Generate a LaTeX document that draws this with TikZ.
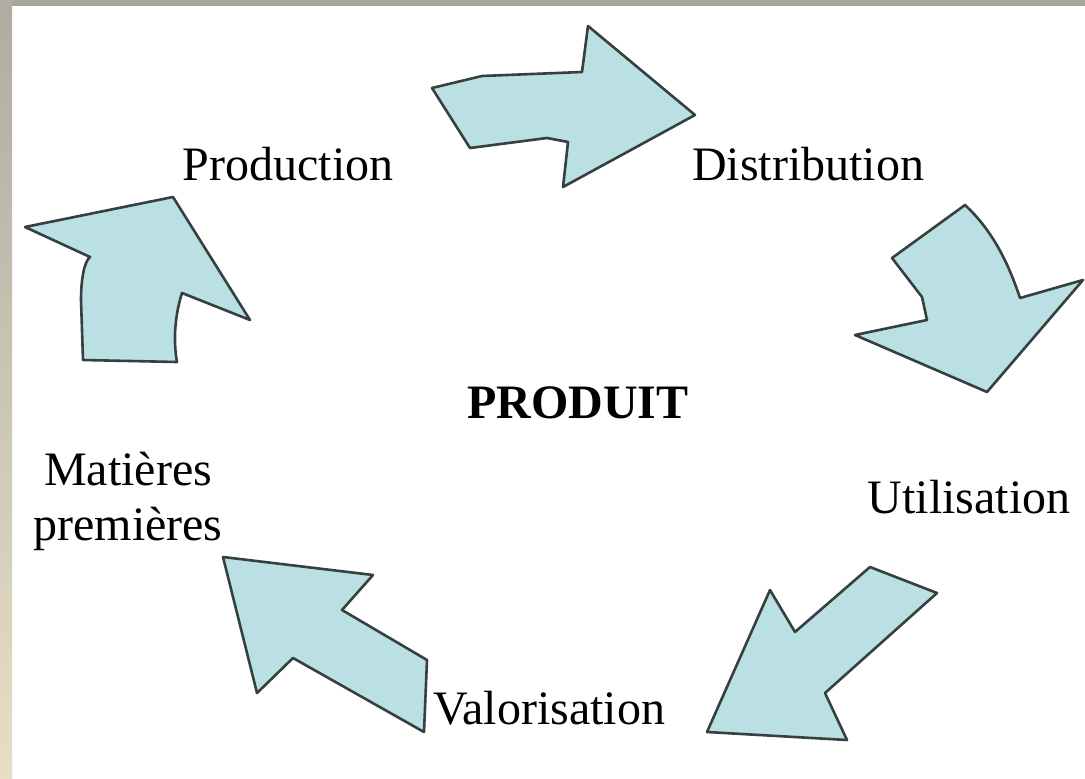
\documentclass[tikz,border=0pt]{standalone}
\usepackage{fontspec}
\setmainfont{Liberation Serif}
\usepackage{tikz}

\definecolor{cyclefill}{HTML}{BAE0E3}
\definecolor{cycleline}{HTML}{364040}
\definecolor{framegray}{HTML}{A8A79F}
\definecolor{framebeige}{HTML}{E7DEC4}

\tikzset{
  flowarrow/.style={fill=cyclefill,draw=cycleline,line width=2.6pt,line join=round},
  cyclelabel/.style={font=\fontsize{48}{55}\selectfont,inner sep=0pt,anchor=base}
}

\begin{document}
\begin{tikzpicture}[x=1pt,y=-1pt]
      \useasboundingbox (0,0) rectangle (1085,779);
      \fill[white] (0,0) rectangle (1085,779);
      \fill[framegray] (0,0) rectangle (1085,6);
      \shade[top color=framegray!90!framebeige,bottom color=framebeige] (0,0) rectangle (12,779);

      % the five bent arrows of the cycle
      \draw[flowarrow] (432,88) -- (482,76) -- (582,72) -- (588,26) -- (695,115)
        -- (563,187) -- (568,142) -- (547,138) -- (470,148) -- cycle;
      \draw[flowarrow] (965,205) .. controls (992,230) and (1008,262) .. (1020,298)
        -- (1083,280) -- (987,392) -- (855,335) -- (927,320) -- (922,297) -- (892,258) -- cycle;
      \draw[flowarrow] (870,567) -- (937,593) -- (825,693) -- (847,740) -- (707,732)
        -- (770,590) -- (795,632) -- cycle;
      \draw[flowarrow] (223,557) -- (373,575) -- (342,610) -- (427,660) -- (424,732)
        -- (293,658) -- (257,693) -- cycle;
      \draw[flowarrow] (25,227) -- (173,197) -- (250,320) -- (182,293)
        .. controls (175,315) and (173,340) .. (177,362) -- (83,360) -- (81,300)
        .. controls (81,280) and (84,262) .. (90,257) -- cycle;

      \node[cyclelabel] (prod) at (288,180) {Production};
      \node[cyclelabel] (distr) at (808,180) {Distribution};
      \node[cyclelabel] (util) at (969,513) {Utilisation};
      \node[cyclelabel] (valor) at (549,724) {Valorisation};
      \node[cyclelabel,anchor=center,align=center] (mat) at (128,501) {Matières\\premières};
      \node[cyclelabel,font=\fontsize{48}{55}\selectfont\bfseries] (produit) at (578,418) {PRODUIT};
    \end{tikzpicture}
\end{document}
